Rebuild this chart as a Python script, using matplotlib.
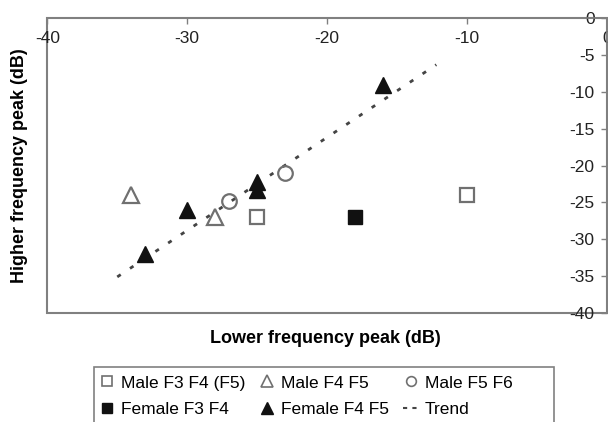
import matplotlib
matplotlib.use("Agg")
import matplotlib.pyplot as plt
from matplotlib.lines import Line2D
from matplotlib.patches import Rectangle

plt.rcParams['font.family'] = ['Liberation Sans', 'DejaVu Sans']
plt.rcParams['axes.unicode_minus'] = False

# data (lower peak dB, higher peak dB)
male_f3f4_x = [-25, -10]
male_f3f4_y = [-27, -24]
male_f4f5_x = [-34, -28]
male_f4f5_y = [-24, -27]
male_f5f6_x = [-27, -23]
male_f5f6_y = [-24.8, -21]
female_f3f4_x = [-18]
female_f3f4_y = [-27]
female_f4f5_x = [-33, -30, -25, -25, -16]
female_f4f5_y = [-32, -26, -22.2, -23.3, -9]
trend_x = [-35, -12.2]
trend_y = [-35.1, -6.3]

x_ticks = [-40, -30, -20, -10, 0]
y_ticks = [0, -5, -10, -15, -20, -25, -30, -35, -40]

GRAY = '#808080'
OPEN = '#707070'

fig = plt.figure(figsize=(6.08, 4.22), dpi=100)
ax = fig.add_axes([47.3 / 608, 1 - 313 / 422, (607 - 47.3) / 608, (313 - 18.3) / 422])

# axes cross at (0, 0), i.e. top-right corner of the box
ax.spines['bottom'].set_position(('data', 0))
ax.spines['left'].set_position(('data', 0))
ax.spines['top'].set_visible(False)
ax.spines['right'].set_visible(False)
for s in ['bottom', 'left']:
    ax.spines[s].set_color(GRAY)
    ax.spines[s].set_linewidth(1.2)
ax.patch.set_edgecolor(GRAY)
ax.patch.set_linewidth(1.5)

ax.plot(trend_x, trend_y, color='#444444', lw=2, linestyle=(0, (1.5, 4)), zorder=2)

ax.plot(male_f3f4_x, male_f3f4_y, 's', ms=10, mfc='white', mec=OPEN, mew=1.6, ls='none', zorder=3)
ax.plot(male_f4f5_x, male_f4f5_y, '^', ms=11.5, mfc='white', mec=OPEN, mew=1.6, ls='none', zorder=3)
ax.plot(male_f5f6_x, male_f5f6_y, 'o', ms=10.5, mfc='none', mec=OPEN, mew=1.6, ls='none', zorder=3)
ax.plot(female_f3f4_x, female_f3f4_y, 's', ms=10.5, color='#111111', ls='none', zorder=3)
ax.plot(female_f4f5_x, female_f4f5_y, '^', ms=12, color='#111111', ls='none', zorder=3)

ax.set_xlim(-40, 0)
ax.set_ylim(-40, 0)
ax.set_xticks(x_ticks)
ax.set_yticks(y_ticks)
ax.tick_params(axis='both', direction='out', length=4, width=1, color=GRAY,
               labelsize=12.5, labelcolor='#222222', pad=5)

ax.set_xlabel('Lower frequency peak (dB)', fontsize=13, fontweight='bold')
ax.xaxis.set_label_coords(0.496, -0.057)
ax.set_ylabel('Higher frequency peak (dB)', fontsize=13, fontweight='bold')
ax.yaxis.set_label_coords(-0.035, 0.5)

handles = [
    Line2D([], [], marker='s', ms=7, mfc='white', mec=OPEN, mew=1.2, ls='none'),
    Line2D([], [], marker='s', ms=7, color='#111111', ls='none'),
    Line2D([], [], marker='^', ms=8, mfc='white', mec=OPEN, mew=1.2, ls='none'),
    Line2D([], [], marker='^', ms=8, color='#111111', ls='none'),
    Line2D([], [], marker='o', ms=7, mfc='white', mec=OPEN, mew=1.2, ls='none'),
    Line2D([], [], color='#444444', lw=1.5, linestyle=(0, (2, 2.5))),
]
labels = ['Male F3 F4 (F5)', 'Female F3 F4', 'Male F4 F5', 'Female F4 F5',
          'Male F5 F6', 'Trend']
leg = fig.legend(handles, labels, ncol=3, loc='upper left',
                 bbox_to_anchor=(91 / 608, 1 - 366.7 / 422),
                 bbox_transform=fig.transFigure, borderaxespad=0,
                 fontsize=12.5, handlelength=0.9, handletextpad=0.35,
                 columnspacing=0.8, borderpad=0.5, labelspacing=0.68,
                 frameon=False)

# legend box: runs off the bottom of the picture like the original
fig.patches.append(Rectangle((94 / 608, -20 / 422), 460 / 608, (422 - 366.7 + 20) / 422,
                             transform=fig.transFigure, facecolor='none',
                             edgecolor=GRAY, lw=1.2))

fig.savefig('out.png', dpi=100)
